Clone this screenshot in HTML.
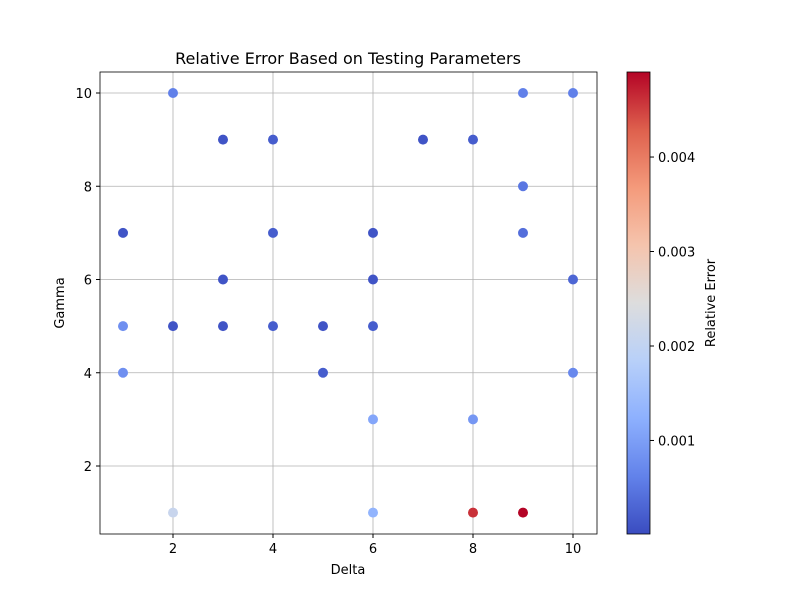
<!DOCTYPE html>
<html><head><meta charset="utf-8"><style>body{margin:0;background:#fff}svg{font-family:"DejaVu Sans","Liberation Sans",sans-serif}</style></head>
<body>
<svg id="chart" width="800" height="600" xmlns="http://www.w3.org/2000/svg">
<defs><linearGradient id="cw" x1="0" y1="1" x2="0" y2="0">
<stop offset="0" stop-color="rgb(58,76,192)"/><stop offset="0.125" stop-color="rgb(98,130,234)"/><stop offset="0.25" stop-color="rgb(141,176,254)"/><stop offset="0.375" stop-color="rgb(184,208,249)"/><stop offset="0.5" stop-color="rgb(221,221,221)"/><stop offset="0.625" stop-color="rgb(245,196,173)"/><stop offset="0.75" stop-color="rgb(244,154,123)"/><stop offset="0.875" stop-color="rgb(222,96,77)"/><stop offset="1" stop-color="rgb(180,4,38)"/></linearGradient></defs>
<g id="grid"></g><g id="pts"></g><g id="axes"></g>
</svg>
<script>
const deltas=[1,1,1,2,2,2,3,3,3,4,4,4,5,5,6,6,6,6,6,7,8,8,8,9,9,9,9,10,10,10];
const gammas=[7,5,4,10,5,1,9,6,5,9,7,5,5,4,7,6,5,3,1,9,9,3,1,10,8,7,1,10,6,4];
const errors=[0.0001,0.0008,0.0008,0.0006,0.0001,0.0021,0.0001,0.0001,0.0001,0.0002,0.0002,0.0002,0.0001,0.0002,0.0001,0.0001,0.0002,0.0011,0.0013,0.0001,0.0002,0.0009,0.0046,0.0006,0.0005,0.0004,0.0049,0.0006,0.0003,0.0007];
const xTicks=[2,4,6,8,10], yTicks=[2,4,6,8,10], cTicks=[0.001,0.002,0.003,0.004];
const cMin=0.00001, cMax=0.0049;
const NS="http://www.w3.org/2000/svg";
const L=100,R=597,T=72,B=534;
const xs=v=>173+(v-2)*50, ys=v=>466-(v-2)*46.625;
const cy=v=>534-(v-cMin)/(cMax-cMin)*462;
const stops=[[58,76,192],[98,130,234],[141,176,254],[184,208,249],[221,221,221],[245,196,173],[244,154,123],[222,96,77],[180,4,38]];
function cw(v){let t=Math.max(0,Math.min(1,(v-cMin)/(cMax-cMin)))*8;let i=Math.min(7,Math.floor(t)),f=t-i;const a=stops[i],b=stops[i+1];return`rgb(${a.map((c,k)=>Math.round(c+(b[k]-c)*f)).join(',')})`;}
function el(tag,attrs,parent,text){const e=document.createElementNS(NS,tag);for(const k in attrs)e.setAttribute(k,attrs[k]);if(text!==undefined)e.textContent=text;parent.appendChild(e);return e;}
const grid=document.getElementById('grid'),pts=document.getElementById('pts'),ax=document.getElementById('axes');
xTicks.forEach(t=>{const g=el('line',{x1:xs(t),x2:xs(t),y1:T,y2:B,stroke:'#b0b0b0','stroke-width':0.8},grid);


el('line',{x1:xs(t),x2:xs(t),y1:B,y2:B+4,stroke:'#000'},ax);
const lb=el('text',{x:xs(t),y:B+19,'text-anchor':'middle','font-size':13},ax,t);

});
yTicks.forEach(t=>{const g=el('line',{x1:L,x2:R,y1:ys(t),y2:ys(t),stroke:'#b0b0b0','stroke-width':0.8},grid);


el('line',{x1:L-4,x2:L,y1:ys(t),y2:ys(t),stroke:'#000'},ax);
const lb=el('text',{x:L-8,y:ys(t)+5,'text-anchor':'end','font-size':13},ax,t);

});
deltas.forEach((d,i)=>{const c=el('circle',{cx:xs(d),cy:ys(gammas[i]),r:5,fill:cw(errors[i])},pts);

});
const fr=el('rect',{x:L,y:T,width:R-L,height:B-T,fill:'none',stroke:'#000','stroke-width':0.8},ax);


const ti=el('text',{x:348,y:64,'text-anchor':'middle','font-size':16},ax,'Relative Error Based on Testing Parameters');


const xl=el('text',{x:348,y:574,'text-anchor':'middle','font-size':13},ax,'Delta');


const yl=el('text',{x:64,y:303,'text-anchor':'middle','font-size':13,transform:'rotate(-90 64 303)'},ax,'Gamma');


const cb=el('rect',{x:627,y:72,width:23,height:462,fill:'url(#cw)',stroke:'#000','stroke-width':0.8},ax);


cTicks.forEach(t=>{el('line',{x1:650,x2:654,y1:cy(t),y2:cy(t),stroke:'#000'},ax);
const lb=el('text',{x:658,y:cy(t)+5,'font-size':13},ax,t.toFixed(3));

});
const cl=el('text',{x:715,y:303,'text-anchor':'middle','font-size':13,transform:'rotate(-90 715 303)'},ax,'Relative Error');


</script>
</body></html>
